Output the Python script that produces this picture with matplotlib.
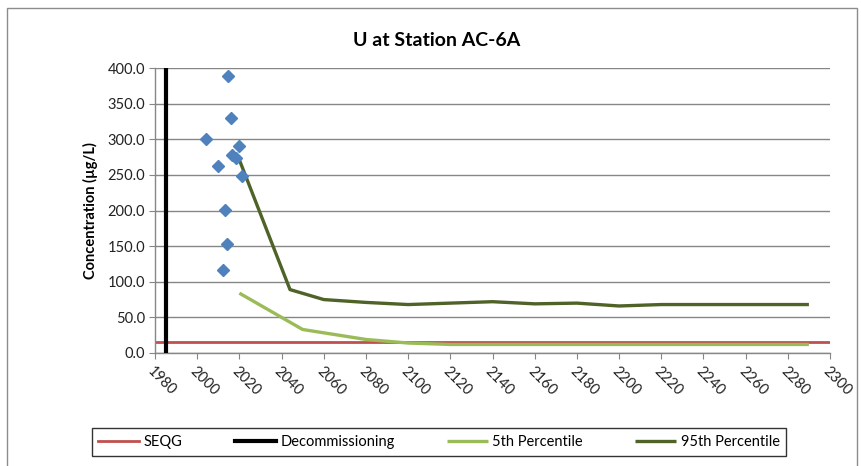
import matplotlib
matplotlib.use("Agg")
import matplotlib.pyplot as plt
from matplotlib.patches import Rectangle

plt.rcParams['font.family'] = ['Lato', 'DejaVu Sans']

# Data
obs_years = [2004.1, 2009.7, 2013.3, 2013.9, 2012.1, 2014.7, 2016.2, 2016.5, 2018.4, 2019.6, 2021.2]
obs_values = [300, 263, 201, 153, 117, 389, 330, 278, 273, 290, 248]

p95_years = [2020, 2044, 2060, 2080, 2100, 2120, 2140, 2160, 2180, 2200, 2220, 2240, 2260, 2290]
p95_values = [271, 89, 75, 71, 68, 70, 72, 69, 70, 66, 68, 68, 68, 68]

p5_years = [2020, 2050, 2080, 2100, 2120, 2140, 2160, 2180, 2200, 2220, 2240, 2260, 2290]
p5_values = [84, 33, 19, 14, 12, 12, 12, 12, 12, 12, 12, 12, 12]

seqg = 15
decommissioning_year = 1985

x_ticks = list(range(1980, 2301, 20))
y_ticks = [0, 50, 100, 150, 200, 250, 300, 350, 400]

W, H = 862, 466
fig = plt.figure(figsize=(W / 100, H / 100), dpi=100)
left, right, top, bottom = 155, 830, 68, 353
ax = fig.add_axes([left / W, 1 - bottom / H, (right - left) / W, (bottom - top) / H])

# outer chart border
fig.patches.append(Rectangle((7 / W, -0.01), (850) / W, 1 - 8 / H + 0.01,
                             transform=fig.transFigure, fill=False,
                             edgecolor='#8c8c8c', linewidth=1.0))

grid_c = '#868686'
for yv in y_ticks:
    ax.axhline(yv, color=grid_c, linewidth=1.0, zorder=0)

ax.axhline(seqg, color='#C0504D', linewidth=2.0, zorder=2, label='SEQG')
ax.axvline(decommissioning_year, color='black', linewidth=3.0, zorder=3, label='Decommissioning')
ax.plot(p5_years, p5_values, color='#9BBB59', linewidth=2.4, zorder=3, label='5th Percentile',
        solid_capstyle='butt')
ax.plot(p95_years, p95_values, color='#4F6228', linewidth=2.4, zorder=3, label='95th Percentile',
        solid_capstyle='butt')
ax.plot(obs_years, obs_values, linestyle='none', marker='D', markersize=6.5,
        color='#4F81BD', zorder=4)

ax.set_xlim(1980, 2300)
ax.set_ylim(0, 400)
ax.set_xticks(x_ticks)
ax.set_yticks(y_ticks)
ax.set_yticklabels([f"{v:.1f}" for v in y_ticks], fontsize=10.5, color='#222222')
ax.set_xticklabels([str(v) for v in x_ticks], fontsize=10.5, rotation=-45,
                   ha='left', va='top', rotation_mode='anchor', color='#222222')
ax.tick_params(axis='x', length=4, color=grid_c, pad=4)
ax.tick_params(axis='y', length=4, color=grid_c, pad=3)
for s in ['top', 'right']:
    ax.spines[s].set_visible(False)
for s in ['left', 'bottom']:
    ax.spines[s].set_color(grid_c)
    ax.spines[s].set_linewidth(1.0)

ax.set_ylabel('Concentration (µg/L)', fontsize=10.5, fontweight='bold', labelpad=7)

fig.text(437 / W, 1 - 40 / H, 'U at Station AC-6A', fontsize=14, fontweight='bold',
         ha='center', va='center')

handles, labels = ax.get_legend_handles_labels()
leg = fig.legend(handles, labels, loc='center', bbox_to_anchor=(439 / W, 1 - 442 / H),
                 ncol=4, fontsize=10.5, frameon=True, fancybox=False, edgecolor='black',
                 handlelength=2.8, columnspacing=3.6, handletextpad=0.3,
                 borderpad=0.45, borderaxespad=0)
leg.get_frame().set_linewidth(1.0)

fig.savefig('out.png', dpi=100)
